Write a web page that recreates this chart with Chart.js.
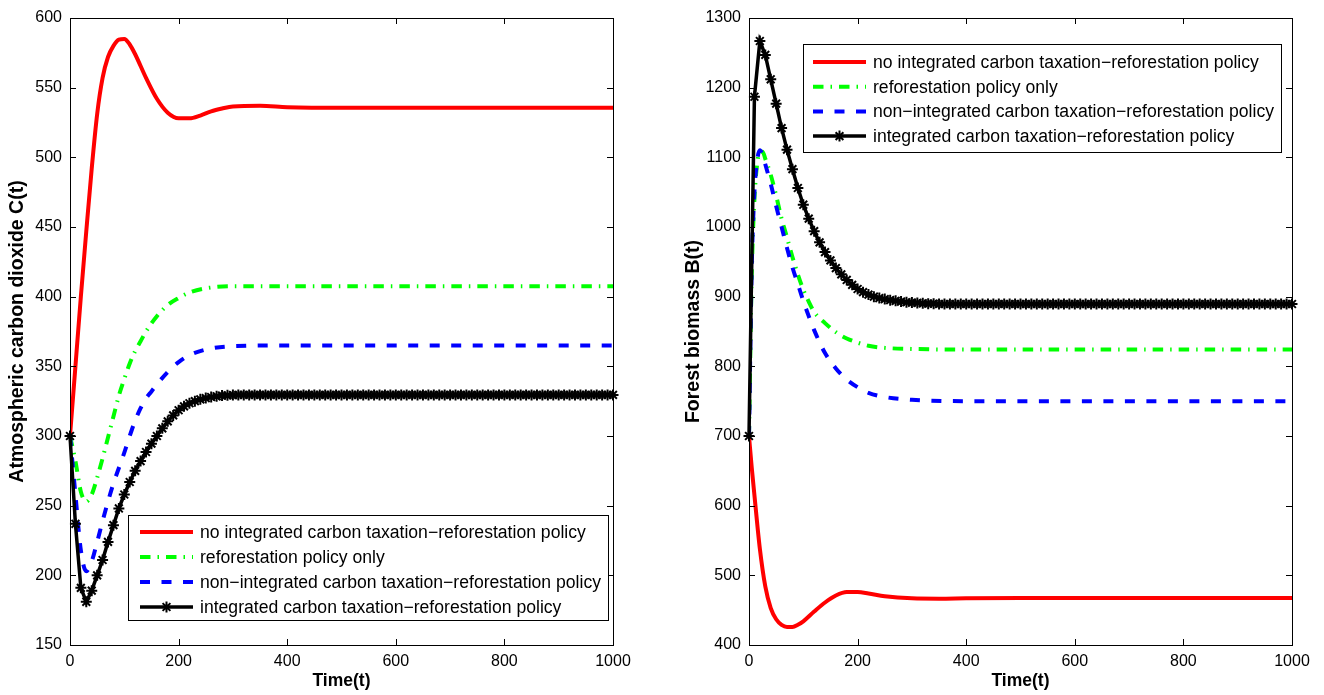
<!DOCTYPE html>
<html>
<head>
<meta charset="utf-8">
<script src="https://cdn.jsdelivr.net/npm/chart.js@4.4.1/dist/chart.umd.min.js"></script>
<style>
  html, body { margin: 0; padding: 0; background: #fff; }
  .panel { position: absolute; top: 0; width: 662px; height: 695px; }
  #left-panel { left: 0; }
  #right-panel { left: 662px; }
</style>
</head>
<body>
<div class="panel" id="left-panel"><canvas id="carbon-chart" width="662" height="695"></canvas></div>
<div class="panel" id="right-panel"><canvas id="biomass-chart" width="662" height="695"></canvas></div>
<script>
// --- series names (same four scenarios in both panels) ---
const seriesLabels = [
    'no integrated carbon taxation\u2212reforestation policy',
    'reforestation policy only',
    'non\u2212integrated carbon taxation\u2212reforestation policy',
    'integrated carbon taxation\u2212reforestation policy'
];

// marker series is sampled every 10 time units
const tMarked = Array.from({ length: 101 }, (_, i) => i * 10);

// --- Atmospheric carbon dioxide C(t) ---
const carbonNoPolicyT = [0, 10, 20, 30, 40, 50, 60, 70, 80, 90, 100, 110, 120, 140, 160, 180, 200, 220, 240, 260, 280, 300, 350, 400, 500, 600, 800, 1000];
const carbonNoPolicy  = [300, 350, 400, 447, 492, 531, 557, 572, 580, 584.5, 585, 581, 574, 557, 542, 532, 528, 528, 530, 533, 535, 536.5, 537, 536, 535.5, 535.5, 535.5, 535.5];

const carbonReforestT = [0, 10, 20, 30, 40, 50, 60, 70, 80, 90, 100, 110, 120, 130, 140, 160, 180, 200, 220, 250, 300, 400, 600, 1000];
const carbonReforest  = [300, 282, 260, 253, 258, 270, 284, 299, 314, 329, 341, 352, 361, 368, 375, 386, 394, 399, 403, 406, 407.5, 407.5, 407.5, 407.5];

const carbonNonIntT = [0, 10, 20, 30, 40, 50, 60, 70, 80, 90, 100, 110, 120, 130, 140, 150, 160, 180, 200, 220, 250, 300, 400, 600, 1000];
const carbonNonInt  = [300, 258, 218, 203, 210, 224, 239, 253, 266, 277, 288, 300, 311, 320, 327, 332, 337, 346, 353, 358, 362, 364.5, 365, 365, 365];

const carbonIntegrated = [
    300, 237, 191, 181, 189, 200, 211, 224, 236, 248,
    258, 267, 275, 282, 288.5, 294.5, 300, 305.5, 310.5, 314.8,
    318.5, 321.3, 323.5, 325, 326.3, 327.2, 328, 328.5, 329, 329.2,
    329.4, 329.5, 329.5, 329.5, 329.5, 329.5, 329.5, 329.5, 329.5, 329.5,
    329.5, 329.5, 329.5, 329.5, 329.5, 329.5, 329.5, 329.5, 329.5, 329.5,
    329.5, 329.5, 329.5, 329.5, 329.5, 329.5, 329.5, 329.5, 329.5, 329.5,
    329.5, 329.5, 329.5, 329.5, 329.5, 329.5, 329.5, 329.5, 329.5, 329.5,
    329.5, 329.5, 329.5, 329.5, 329.5, 329.5, 329.5, 329.5, 329.5, 329.5,
    329.5, 329.5, 329.5, 329.5, 329.5, 329.5, 329.5, 329.5, 329.5, 329.5,
    329.5, 329.5, 329.5, 329.5, 329.5, 329.5, 329.5, 329.5, 329.5, 329.5,
    329.5
];

// --- Forest biomass B(t) ---
const biomassNoPolicyT = [0, 5, 10, 20, 30, 40, 50, 60, 70, 80, 90, 100, 120, 140, 160, 180, 200, 220, 250, 300, 350, 400, 500, 700, 1000];
const biomassNoPolicy  = [700, 655, 615, 538, 484, 453, 437, 429, 426, 426, 429, 434, 448, 461, 471, 476, 476, 474, 470, 467, 466.5, 467, 467.5, 467.5, 467.5];

const biomassReforestT = [0, 5, 10, 15, 20, 25, 30, 40, 50, 60, 70, 80, 90, 100, 110, 120, 140, 160, 180, 200, 220, 250, 300, 400, 1000];
const biomassReforest  = [700, 930, 1040, 1090, 1108, 1108, 1098, 1075, 1045, 1012, 985, 957, 932, 910, 893, 878, 862, 849, 840, 834, 829.5, 826.5, 825, 824, 824];

const biomassNonIntT = [0, 5, 10, 15, 20, 25, 30, 40, 50, 60, 70, 80, 90, 100, 110, 120, 140, 160, 180, 200, 220, 250, 300, 400, 1000];
const biomassNonInt  = [700, 940, 1050, 1095, 1110, 1103, 1090, 1062, 1030, 1000, 970, 942, 918, 894, 872, 852, 819, 797, 781, 770, 762, 756, 752, 750, 750];

const biomassIntegrated = [
    700, 1187, 1267, 1247, 1212, 1177, 1142, 1111, 1083, 1056,
    1032, 1012, 994, 978, 964, 952, 941, 932, 924, 917,
    911, 906.5, 903, 900, 898, 896.5, 895, 894, 893, 892,
    891.5, 891, 890.5, 890, 890, 889.5, 889.5, 889.5, 889.5, 889.5,
    889.5, 889.5, 889.5, 889.5, 889.5, 889.5, 889.5, 889.5, 889.5, 889.5,
    889.5, 889.5, 889.5, 889.5, 889.5, 889.5, 889.5, 889.5, 889.5, 889.5,
    889.5, 889.5, 889.5, 889.5, 889.5, 889.5, 889.5, 889.5, 889.5, 889.5,
    889.5, 889.5, 889.5, 889.5, 889.5, 889.5, 889.5, 889.5, 889.5, 889.5,
    889.5, 889.5, 889.5, 889.5, 889.5, 889.5, 889.5, 889.5, 889.5, 889.5,
    889.5, 889.5, 889.5, 889.5, 889.5, 889.5, 889.5, 889.5, 889.5, 889.5,
    889.5
];

Chart.defaults.font.family = '"Liberation Sans", Arial, Helvetica, sans-serif';
Chart.defaults.color = '#000';

const pairs = (xs, ys) => xs.map((x, i) => ({ x: x, y: ys[i] }));
const plainNumber = v => String(v);

// boxed frame with inward ticks on all four sides
const framePlugin = {
    id: 'frame',
    afterDatasetsDraw(chart) {
        const { ctx, chartArea: { left, right, top, bottom }, scales: { x, y } } = chart;
        const len = 6;
        ctx.save();
        ctx.strokeStyle = '#000';
        ctx.lineWidth = 1;
        ctx.setLineDash([]);
        ctx.strokeRect(left + 0.5, top + 0.5, right - left, bottom - top);
        ctx.beginPath();
        x.ticks.forEach(t => {
            const px = Math.round(x.getPixelForValue(t.value)) + 0.5;
            ctx.moveTo(px, bottom); ctx.lineTo(px, bottom - len);
            ctx.moveTo(px, top); ctx.lineTo(px, top + len);
        });
        y.ticks.forEach(t => {
            const py = Math.round(y.getPixelForValue(t.value)) + 0.5;
            ctx.moveTo(left, py); ctx.lineTo(left + len, py);
            ctx.moveTo(right, py); ctx.lineTo(right - len, py);
        });
        ctx.stroke();
        ctx.restore();
    }
};

// legend box drawn inside the plot area
const insetLegend = {
    id: 'insetLegend',
    afterDraw(chart, args, opts) {
        const { ctx, chartArea } = chart;
        const w = opts.width, h = opts.height;
        const bx = chartArea.right - opts.right - w;
        const by = opts.bottom != null ? chartArea.bottom - opts.bottom - h : chartArea.top + opts.top;
        ctx.save();
        ctx.fillStyle = '#fff';
        ctx.fillRect(bx, by, w, h);
        ctx.strokeStyle = '#000';
        ctx.lineWidth = 1;
        ctx.setLineDash([]);
        ctx.strokeRect(Math.round(bx) + 0.5, Math.round(by) + 0.5, w, h);
        chart.data.datasets.forEach((ds, i) => {
            const ly = by + opts.firstRow + i * opts.rowGap;
            const x0 = bx + opts.sampleStart, x1 = bx + opts.sampleEnd;
            ctx.beginPath();
            ctx.setLineDash(ds.borderDash || []);
            ctx.lineWidth = ds.borderWidth;
            ctx.strokeStyle = ds.borderColor;
            ctx.moveTo(x0, ly);
            ctx.lineTo(x1, ly);
            ctx.stroke();
            ctx.setLineDash([]);
            if (ds.pointRadius > 0) {
                ctx.fillStyle = ds.pointBackgroundColor;
                ctx.strokeStyle = ds.pointBorderColor;
                ctx.lineWidth = ds.pointBorderWidth;
                Chart.helpers.drawPoint(ctx, {
                    pointStyle: ds.pointStyle, radius: ds.pointRadius,
                    borderWidth: ds.pointBorderWidth, rotation: 0
                }, (x0 + x1) / 2, ly);
            }
            ctx.fillStyle = '#000';
            ctx.font = opts.font;
            ctx.textBaseline = 'middle';
            ctx.textAlign = 'left';
            ctx.fillText(ds.label, bx + opts.textStart, ly + 1);
        });
        ctx.restore();
    }
};

const buildDatasets = (red, green, blue, black) => [
    {
        label: seriesLabels[0], data: red, order: 3,
        borderColor: '#ff0000', borderWidth: 4, pointRadius: 0,
        cubicInterpolationMode: 'monotone'
    },
    {
        label: seriesLabels[1], data: green, order: 2,
        borderColor: '#00ff00', borderWidth: 4, pointRadius: 0,
        borderDash: [10.5, 7, 1.5, 7], cubicInterpolationMode: 'monotone'
    },
    {
        label: seriesLabels[2], data: blue, order: 1,
        borderColor: '#0000ff', borderWidth: 4, pointRadius: 0,
        borderDash: [10, 11.5], cubicInterpolationMode: 'monotone'
    },
    {
        label: seriesLabels[3], data: black, order: 0,
        borderColor: '#000000', borderWidth: 3.5, tension: 0, clip: false,
        pointStyle: 'star', pointRadius: 5.5, pointBorderWidth: 2,
        pointBackgroundColor: '#000000', pointBorderColor: '#000000'
    }
];

const makePanel = (canvasId, cfg) => new Chart(document.getElementById(canvasId), {
    type: 'line',
    data: { datasets: cfg.datasets },
    options: {
        responsive: false,
        animation: false,
        devicePixelRatio: 1,
        layout: { padding: { top: 18, right: cfg.padRight, left: cfg.padLeft, bottom: 0 } },
        plugins: {
            legend: { display: false },
            tooltip: { enabled: false },
            insetLegend: cfg.legend
        },
        scales: {
            x: {
                type: 'linear', min: 0, max: 1000,
                afterFit: s => { s.height = 50; },
                ticks: { stepSize: 200, padding: 7, maxRotation: 0, color: '#000', font: { size: 16 }, callback: plainNumber },
                grid: { display: false, drawTicks: false },
                border: { display: false },
                title: {
                    display: true, text: 'Time(t)', color: '#000',
                    font: { size: 17.5, weight: 'bold' }, padding: { top: 0, bottom: 3 }
                }
            },
            y: {
                type: 'linear', min: cfg.yMin, max: cfg.yMax,
                afterFit: s => { s.width = cfg.yWidth; },
                ticks: { stepSize: cfg.yStep, padding: 8, color: '#000', font: { size: 16 }, callback: plainNumber },
                grid: { display: false, drawTicks: false },
                border: { display: false },
                title: {
                    display: true, text: cfg.yTitle, color: '#000',
                    font: { size: 19.5, weight: 'bold' }, padding: { top: 6, bottom: 0 }
                }
            }
        }
    },
    plugins: [framePlugin, insetLegend]
});

makePanel('carbon-chart', {
    datasets: buildDatasets(
        pairs(carbonNoPolicyT, carbonNoPolicy),
        pairs(carbonReforestT, carbonReforest),
        pairs(carbonNonIntT, carbonNonInt),
        pairs(tMarked, carbonIntegrated)
    ),
    yMin: 150, yMax: 600, yStep: 50,
    yTitle: 'Atmospheric carbon dioxide C(t)',
    padLeft: 0, padRight: 49, yWidth: 70,
    legend: {
        right: 5, bottom: 25, width: 480, height: 105,
        firstRow: 17, rowGap: 25, sampleStart: 12, sampleEnd: 65, textStart: 72,
        font: '17.6px "Liberation Sans", Arial, sans-serif'
    }
});

makePanel('biomass-chart', {
    datasets: buildDatasets(
        pairs(biomassNoPolicyT, biomassNoPolicy),
        pairs(biomassReforestT, biomassReforest),
        pairs(biomassNonIntT, biomassNonInt),
        pairs(tMarked, biomassIntegrated)
    ),
    yMin: 400, yMax: 1300, yStep: 100,
    yTitle: 'Forest biomass B(t)',
    padLeft: 14, padRight: 32, yWidth: 73,
    legend: {
        right: 11, top: 26, width: 478, height: 108,
        firstRow: 18, rowGap: 24.7, sampleStart: 10, sampleEnd: 63, textStart: 70,
        font: '17.6px "Liberation Sans", Arial, sans-serif'
    }
});
</script>
</body>
</html>
